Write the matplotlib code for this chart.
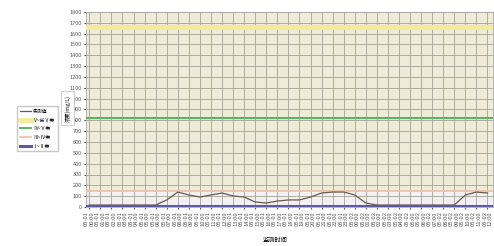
import matplotlib
matplotlib.use("Agg")
import matplotlib.pyplot as plt

plt.rcParams['font.family'] = ['Noto Sans CJK SC', 'DejaVu Sans']

# ---- data ----
hours = [f"{h:02d}:00" for h in range(24)] + [f"{h:02d}:00" for h in range(13)]
days = ["05-01"] * 24 + ["05-02"] * 13
x_labels = [f"{d}\n{h}" for d, h in zip(days, hours)]
series_values = [18, 18, 18, 18, 18, 18, 18, 65, 138, 111, 92, 111, 129, 102, 92, 46,
                 37, 55, 65, 65, 92, 129, 138, 138, 111, 37, 18, 18, 18, 18, 18, 18,
                 18, 18, 111, 138, 129]
series_name = "实测值"
limit_names = ["Ⅴ~劣Ⅴ类", "Ⅳ~Ⅴ类", "Ⅲ~Ⅳ类", "Ⅰ~Ⅱ类"]
limit_values = [1660, 820, 150, 10]
y_ticks = list(range(0, 1801, 100))
y_label = "浓度(mg/L)"
x_label = "监测时间"

limit_colors = ["#f3eb98", "#4caf50", "#efbfa8", "#5a5aa8"]
limit_widths = [3.5, 1.3, 1.2, 2.2]

fig = plt.figure(figsize=(4.94, 2.46), dpi=100)
ax = fig.add_axes([86 / 494, 1 - 207 / 246, 1 - 86 / 494 - 0.002, (207 - 12) / 246])
ax.set_facecolor("#eeecd8")
ax.axhspan(0, limit_values[2], color="#f2f0f2", zorder=0)

xs = list(range(len(series_values)))
handles = []
h, = ax.plot(xs, series_values, color="#6b5a48", lw=0.9, zorder=5)
handles.append(h)
for name, v, c, w in zip(limit_names, limit_values, limit_colors, limit_widths):
    hl = ax.axhline(v, color=c, lw=w, zorder=4)
    handles.append(hl)

ax.set_xlim(-0.3, len(series_values) - 0.5)
ax.set_ylim(0, 1800)
ax.set_yticks(y_ticks)
ax.set_yticklabels([str(t) for t in y_ticks], fontsize=4)
ax.set_xticks(xs)
ax.set_xticklabels(x_labels, fontsize=4.2, rotation=90, linespacing=1.1)
ax.grid(True, color="#a4a498", lw=0.6)
ax.set_axisbelow(True)
ax.tick_params(length=1.5, pad=1.5, colors="#555555")
for s in ax.spines.values():
    s.set_color("#aaaaaa")
    s.set_linewidth(0.6)

fig.legend(handles, [series_name] + limit_names, loc="upper left",
           bbox_to_anchor=(15 / 494, 1 - 104 / 246), fontsize=3.5,
           frameon=True, fancybox=False, edgecolor="#bbbbbb",
           handlelength=2.2, borderpad=0.5, labelspacing=0.75, handletextpad=0.5)

fig.text(67.5 / 494, 1 - 108 / 246, y_label, rotation=90, fontsize=3.8,
         ha="center", va="center",
         bbox=dict(boxstyle="square,pad=0.7", fc="white", ec="#bbbbbb", lw=0.5))
fig.text(275 / 494, 1 - 240 / 246, x_label, fontsize=4.5, ha="center", va="center")

fig.savefig("out.png", dpi=100, facecolor="white")
